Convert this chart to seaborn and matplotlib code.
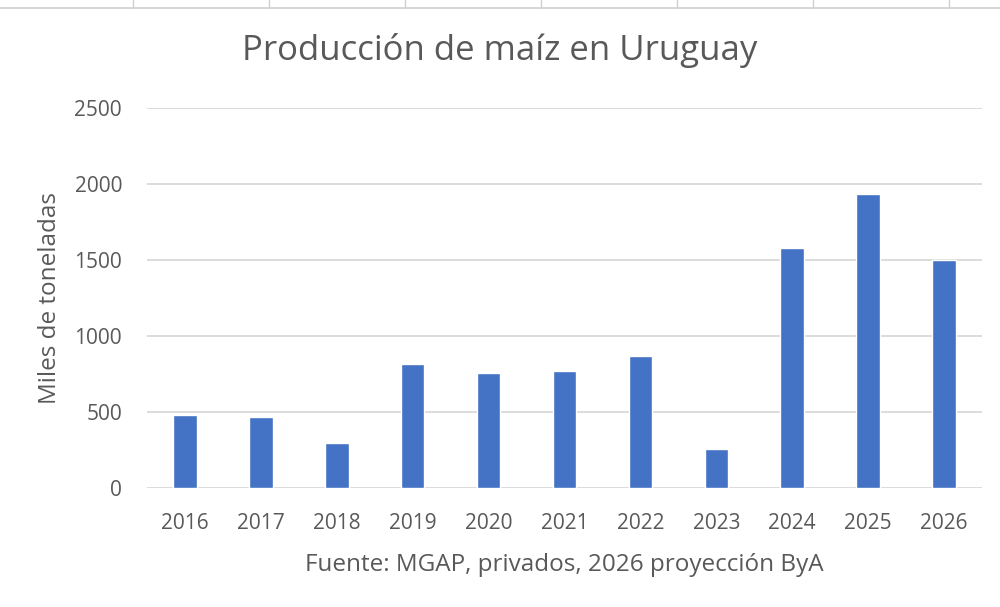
import matplotlib
matplotlib.use('Agg')
import matplotlib.pyplot as plt
import seaborn as sns
import pandas as pd
from matplotlib.lines import Line2D

# Datos (miles de toneladas)
years = ['2016', '2017', '2018', '2019', '2020', '2021', '2022', '2023', '2024', '2025', '2026']
production = [478, 467, 299, 814, 759, 770, 871, 258, 1577, 1934, 1500]
y_ticks = [0, 500, 1000, 1500, 2000, 2500]

title = 'Producción de maíz en Uruguay'
y_label = 'Miles de toneladas'
x_label = 'Fuente: MGAP, privados, 2026 proyección ByA'

df = pd.DataFrame({'Year': years, 'Production': production})

sns.set_theme(style='white')
plt.rcParams['font.family'] = ['Open Sans', 'DejaVu Sans']
text_color = '#595959'

fig = plt.figure(figsize=(10, 6.07), dpi=100)
ax = fig.add_axes([0.147, 0.196, 0.835, 0.626])

sns.barplot(data=df, x='Year', y='Production', color='#4472C4', width=0.31,
            saturation=1, ax=ax, zorder=3)

ax.set_ylim(0, 2500)
ax.set_yticks(y_ticks)
ax.yaxis.grid(True, color='#D9D9D9', linewidth=1.3, zorder=0)
ax.set_axisbelow(True)
for side in ['top', 'right', 'left', 'bottom']:
    ax.spines[side].set_visible(False)
ax.tick_params(axis='both', length=0, labelsize=15, labelcolor=text_color)
ax.tick_params(axis='y', pad=18)
ax.tick_params(axis='x', pad=18)

ax.set_xlabel(x_label, fontsize=17.5, color=text_color, labelpad=14)
ax.set_ylabel(y_label, fontsize=17.5, color=text_color, labelpad=9)
fig.text(0.5, 0.917, title, ha='center', va='center', fontsize=25, color=text_color)

# lineas de la hoja de calculo arriba
fig.add_artist(Line2D([0, 1], [0.987, 0.987], color='#D0D0D0', linewidth=1.2))
for xs in [0.133, 0.269, 0.405, 0.541, 0.677, 0.813, 0.949]:
    fig.add_artist(Line2D([xs, xs], [0.987, 1.0], color='#D0D0D0', linewidth=1))

fig.savefig('out.png', dpi=100, facecolor='white')
